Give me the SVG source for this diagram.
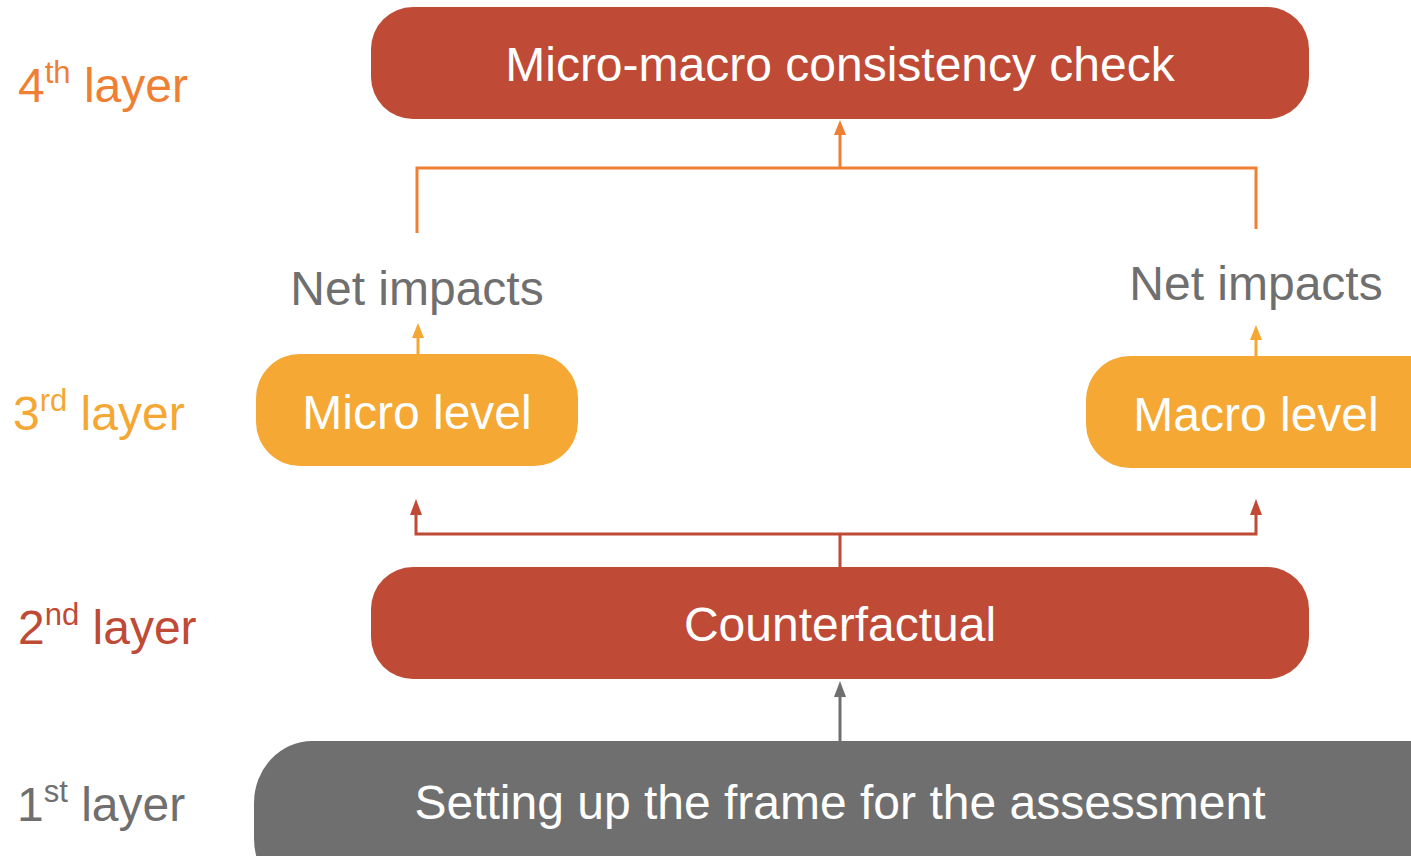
<svg xmlns="http://www.w3.org/2000/svg" width="1411" height="856" viewBox="0 0 1411 856">
<style>
text{font-family:"Liberation Sans",Arial,sans-serif}
.box{font-size:48px;fill:#fff;text-anchor:middle}
.lab{font-size:48px}
.sup{font-size:31px}
.net{font-size:48px;fill:#6F6F6F;text-anchor:middle}
</style>
<rect width="1411" height="856" fill="#fff"/>
<g id="connectors" fill="none" stroke-width="3">
<g stroke="#EF8033">
<path d="M417 233 V168 H1256 V229"/>
<path d="M840 168 V132"/>
<path d="M834 135 L840 120 L846 135 Z" fill="#EF8033" stroke="none"/>
</g>
<g stroke="#F5A733">
<path d="M418 354 V335"/>
<path d="M412 338 L418 323 L424 338 Z" fill="#F5A733" stroke="none"/>
<path d="M1256 356 V337"/>
<path d="M1250 340 L1256 325 L1262 340 Z" fill="#F5A733" stroke="none"/>
</g>
<g stroke="#C04A35">
<path d="M840 567 V534"/>
<path d="M416 512 V534 H1256 V512"/>
<path d="M410 515 L416 499 L422 515 Z" fill="#C04A35" stroke="none"/>
<path d="M1250 515 L1256 499 L1262 515 Z" fill="#C04A35" stroke="none"/>
</g>
<g stroke="#6F6F6F">
<path d="M840 741 V694"/>
<path d="M834 697 L840 681 L846 697 Z" fill="#6F6F6F" stroke="none"/>
</g>
</g>
<g id="node-consistency">
<rect x="371" y="7" width="938" height="112" rx="42" fill="#BF4A35"/>
<text class="box" x="840" y="81">Micro-macro consistency check</text>
</g>
<g id="node-net-micro"><text class="net" x="417" y="305">Net impacts</text></g>
<g id="node-net-macro"><text class="net" x="1256" y="300">Net impacts</text></g>
<g id="node-micro">
<rect x="256" y="354" width="322" height="112" rx="44" fill="#F6A834"/>
<text class="box" x="417" y="429">Micro level</text>
</g>
<g id="node-macro">
<rect x="1086" y="356" width="380" height="112" rx="44" fill="#F6A834"/>
<text class="box" x="1256" y="431">Macro level</text>
</g>
<g id="node-counterfactual">
<rect x="371" y="567" width="938" height="112" rx="42" fill="#BF4A35"/>
<text class="box" x="840" y="641">Counterfactual</text>
</g>
<g id="node-frame">
<rect x="254" y="741" width="1220" height="160" rx="58" ry="62" fill="#6F6F6F"/>
<text class="box" x="840" y="819">Setting up the frame for the assessment</text>
</g>
<g id="layer-labels">
<text class="lab" x="18" y="102" fill="#EF8033">4<tspan class="sup" dy="-19">th</tspan><tspan dy="19"> layer</tspan></text>
<text class="lab" x="13" y="430" fill="#F5A733">3<tspan class="sup" dy="-19">rd</tspan><tspan dy="19"> layer</tspan></text>
<text class="lab" x="18" y="644" fill="#BF4A35">2<tspan class="sup" dy="-19">nd</tspan><tspan dy="19"> layer</tspan></text>
<text class="lab" x="17" y="821" fill="#6F6F6F">1<tspan class="sup" dy="-19">st</tspan><tspan dy="19">  layer</tspan></text>
</g>
</svg>
